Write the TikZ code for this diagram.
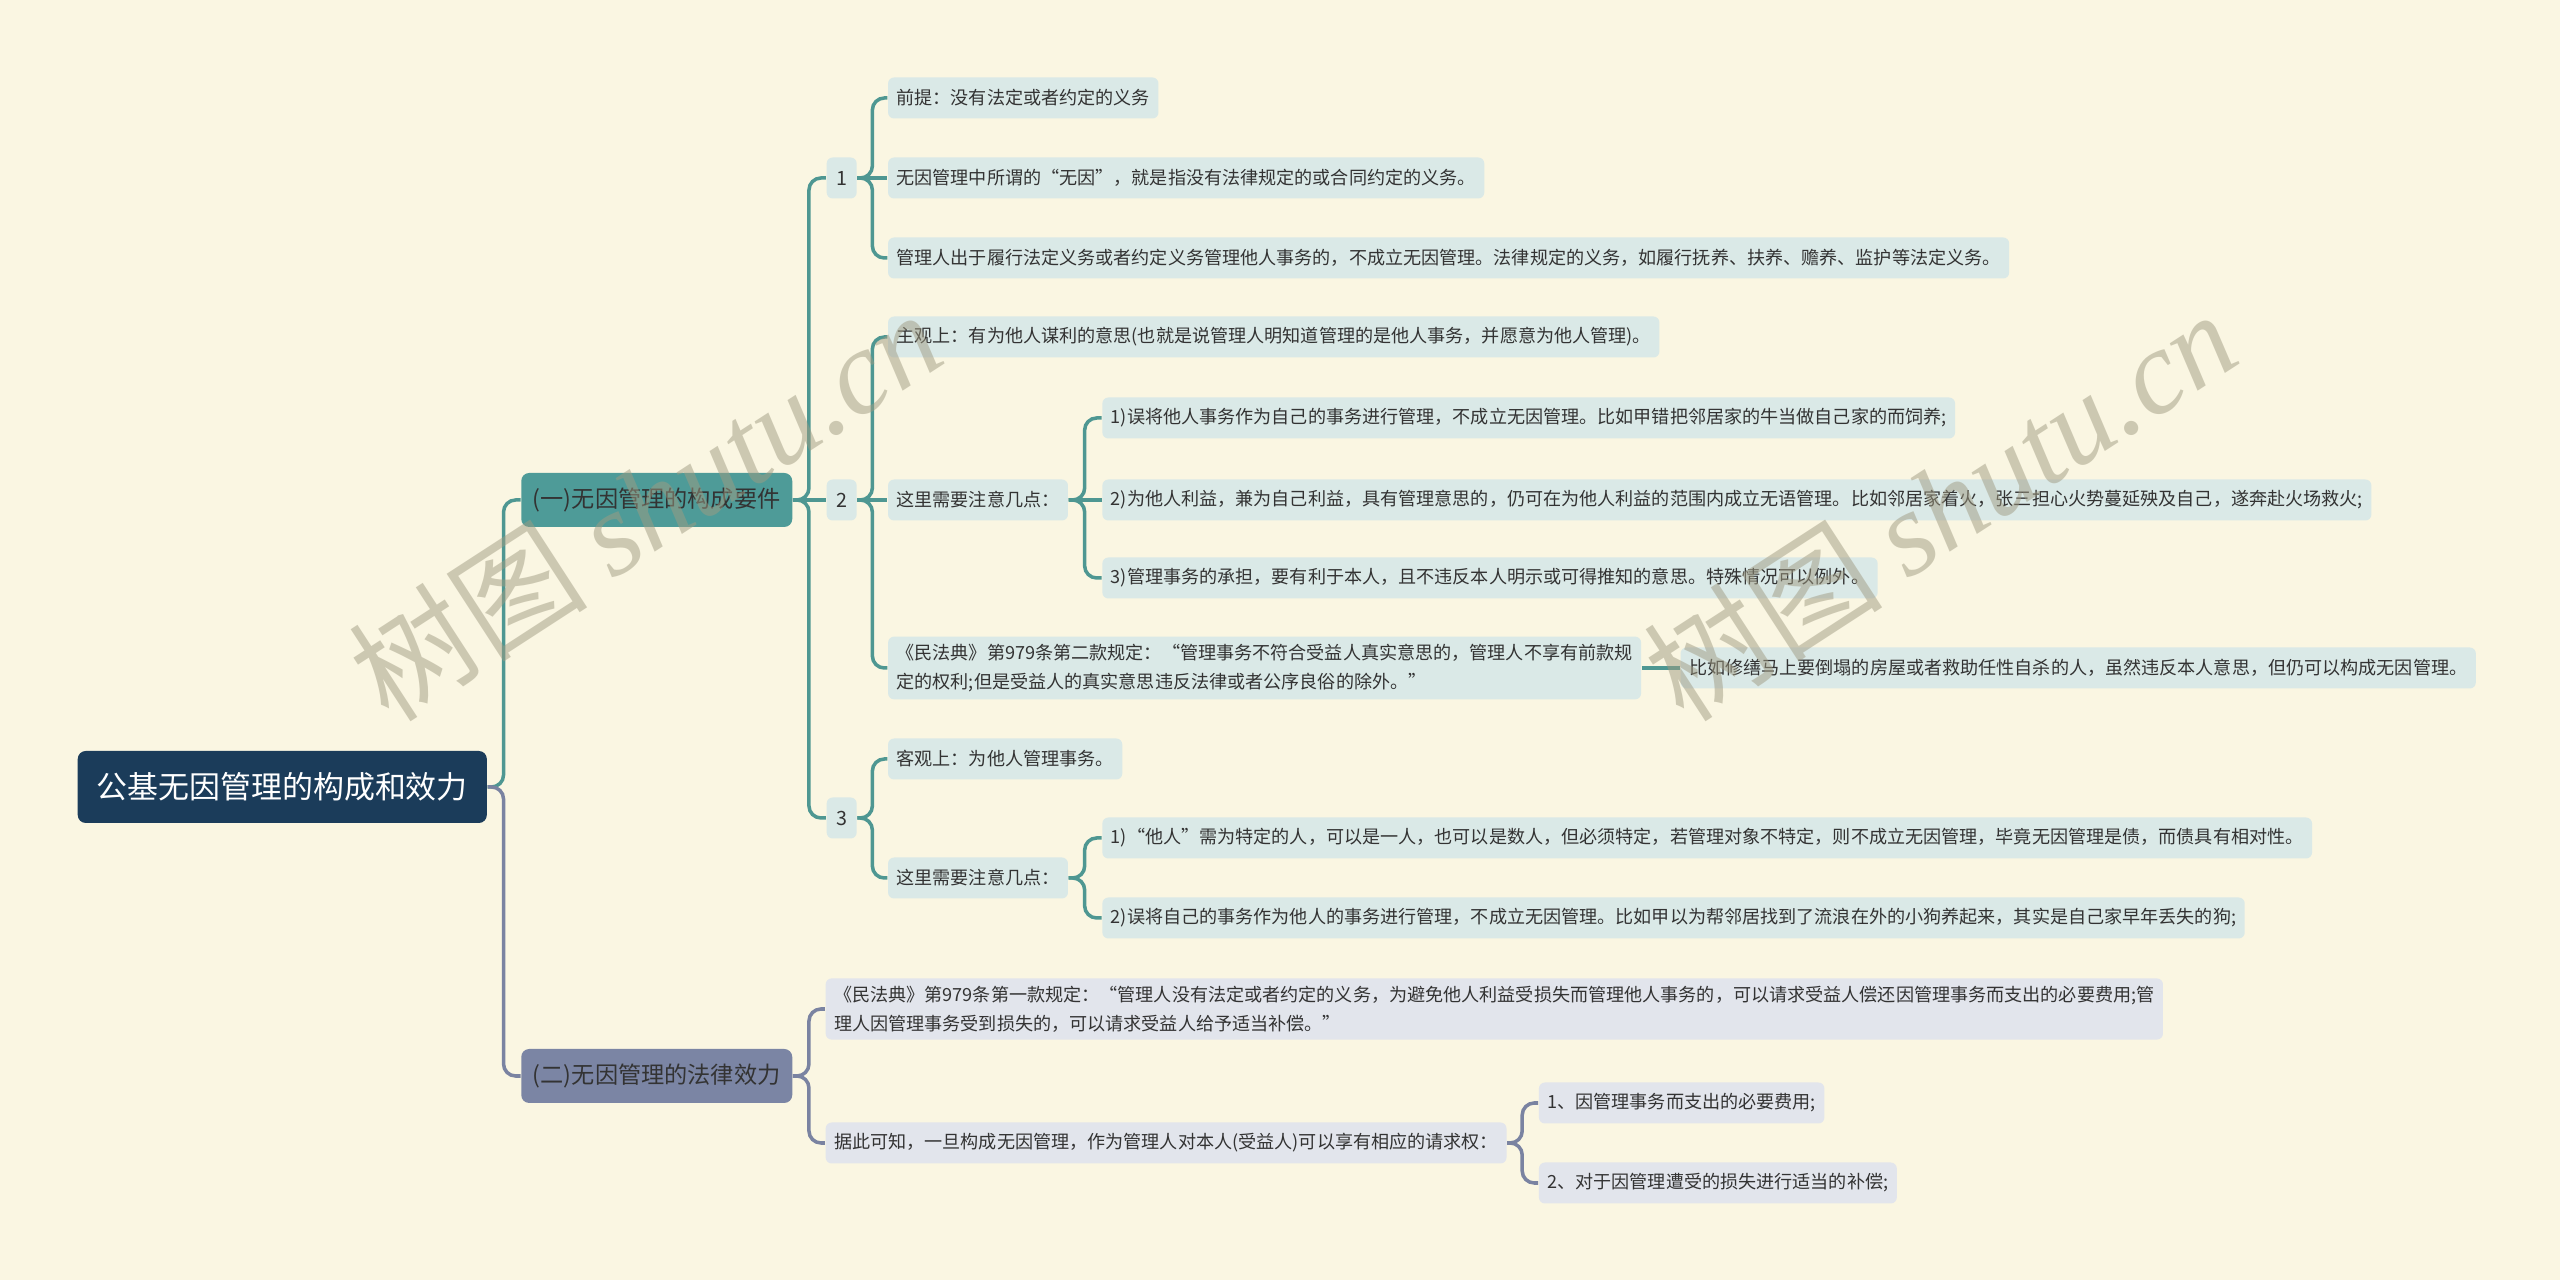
\documentclass[tikz,border=0pt]{standalone}
\usepackage{fontspec}
\setmainfont{Noto Sans CJK SC}
\newfontfamily\wmfont{Liberation Serif}
\usetikzlibrary{positioning}

\definecolor{bgcream}{HTML}{FAF6E2}
\definecolor{rootblue}{HTML}{1B3C5A}
\definecolor{tealmain}{HTML}{4E9B98}
\definecolor{slatemain}{HTML}{7B85A4}
\definecolor{tealleaf}{HTML}{DAE9E7}
\definecolor{slateleaf}{HTML}{E2E5EC}
\definecolor{tealline}{HTML}{4E9792}
\definecolor{slateline}{HTML}{7A83A1}
\definecolor{leaftext}{HTML}{333333}
\definecolor{wmgray}{HTML}{A09B82}

\begin{document}
\begin{tikzpicture}[
    node distance=0.32cm,
    rootbox/.style={rectangle, rounded corners=0.08cm, fill=rootblue, text=white, font=\fontsize{8.8}{10}\selectfont, inner xsep=0.19cm, minimum height=0.72cm},
    topic/.style={rectangle, rounded corners=0.08cm, text=black!80, font=\fontsize{6.6}{8}\selectfont, inner xsep=0.05cm, minimum width=2.71cm, minimum height=0.54cm},
    leaf/.style={rectangle, rounded corners=0.06cm, text=leaftext, font=\fontsize{5.15}{8.3}\selectfont, inner xsep=0.085cm, inner ysep=2.1pt, minimum height=0.41cm, align=left},
    tleaf/.style={leaf, fill=tealleaf},
    sleaf/.style={leaf, fill=slateleaf},
    numbox/.style={tleaf, minimum width=0.30cm, inner xsep=0pt, font=\fontsize{5.6}{7}\selectfont},
    tlink/.style={draw=tealline, line width=1pt, rounded corners=0.12cm},
    slink/.style={draw=slateline, line width=1pt, rounded corners=0.12cm},
    wmark/.style={text=wmgray, text opacity=0.5, font=\fontsize{34}{38}\selectfont, rotate=33}
]
% Background
\fill[bgcream] (0,0) rectangle (25.6,-12.8);
\useasboundingbox (0,0) rectangle (25.6,-12.8);

% Main topics
\node[rootbox, anchor=west] (root) at (0.77,-7.87) {公基无因管理的构成和效力};
\node[topic, fill=tealmain, right=0.33cm of root, yshift=2.87cm] (part1) {(一)无因管理的构成要件};
\node[topic, fill=slatemain, right=0.33cm of root, yshift=-2.89cm] (part2) {(二)无因管理的法律效力};

% Part one
\node[numbox, right=0.33cm of part1, yshift=3.22cm] (num1) {1};
\node[numbox, right=0.33cm of part1] (num2) {2};
\node[numbox, right=0.33cm of part1, yshift=-3.18cm] (num3) {3};

\node[tleaf, right=0.30cm of num1, yshift=0.80cm] (pre) {前提：没有法定或者约定的义务};
\node[tleaf, right=0.30cm of num1] (wuyin) {无因管理中所谓的“无因”，就是指没有法律规定的或合同约定的义务。};
\node[tleaf, right=0.30cm of num1, yshift=-0.80cm] (duty) {管理人出于履行法定义务或者约定义务管理他人事务的，不成立无因管理。法律规定的义务，如履行抚养、扶养、赡养、监护等法定义务。};

\node[tleaf, right=0.30cm of num2, yshift=1.63cm] (subj) {主观上：有为他人谋利的意思(也就是说管理人明知道管理的是他人事务，并愿意为他人管理)。};
\node[tleaf, right=0.30cm of num2] (note2) {这里需要注意几点：};
\node[tleaf, right=0.30cm of num2, yshift=-1.68cm] (law2) {《民法典》第979条第二款规定：“管理事务不符合受益人真实意思的，管理人不享有前款规\\定的权利;但是受益人的真实意思违反法律或者公序良俗的除外。”};
\node[tleaf, right=0.33cm of note2, yshift=0.82cm] (note2a) {1)误将他人事务作为自己的事务进行管理，不成立无因管理。比如甲错把邻居家的牛当做自己家的而饲养;};
\node[tleaf, right=0.33cm of note2] (note2b) {2)为他人利益，兼为自己利益，具有管理意思的，仍可在为他人利益的范围内成立无语管理。比如邻居家着火，张三担心火势蔓延殃及自己，遂奔赴火场救火;};
\node[tleaf, right=0.33cm of note2, yshift=-0.78cm] (note2c) {3)管理事务的承担，要有利于本人，且不违反本人明示或可得推知的意思。特殊情况可以例外。};
\node[tleaf, right=0.38cm of law2] (repair) {比如修缮马上要倒塌的房屋或者救助任性自杀的人，虽然违反本人意思，但仍可以构成无因管理。};

\node[tleaf, right=0.30cm of num3, yshift=0.59cm] (obj) {客观上：为他人管理事务。};
\node[tleaf, right=0.30cm of num3, yshift=-0.60cm] (note3) {这里需要注意几点：};
\node[tleaf, right=0.33cm of note3, yshift=0.40cm] (note3a) {1)“他人”需为特定的人，可以是一人，也可以是数人，但必须特定，若管理对象不特定，则不成立无因管理，毕竟无因管理是债，而债具有相对性。};
\node[tleaf, right=0.33cm of note3, yshift=-0.40cm] (note3b) {2)误将自己的事务作为他人的事务进行管理，不成立无因管理。比如甲以为帮邻居找到了流浪在外的小狗养起来，其实是自己家早年丢失的狗;};

% Part two
\node[sleaf, right=0.32cm of part2, yshift=0.67cm] (law1) {《民法典》第979条第一款规定：“管理人没有法定或者约定的义务，为避免他人利益受损失而管理他人事务的，可以请求受益人偿还因管理事务而支出的必要费用;管\\理人因管理事务受到损失的，可以请求受益人给予适当补偿。”};
\node[sleaf, right=0.32cm of part2, yshift=-0.67cm] (claim) {据此可知，一旦构成无因管理，作为管理人对本人(受益人)可以享有相应的请求权：};
\node[sleaf, right=0.31cm of claim, yshift=0.40cm] (claima) {1、因管理事务而支出的必要费用;};
\node[sleaf, right=0.31cm of claim, yshift=-0.40cm] (claimb) {2、对于因管理遭受的损失进行适当的补偿;};

% Connectors
\draw[tlink] (root.east) -- ++(0.16,0) |- (part1.west);
\draw[slink] (root.east) -- ++(0.16,0) |- (part2.west);

\draw[tlink] (part1.east) -- ++(0.16,0) |- (num1.west);
\draw[tlink] (part1.east) -- (num2.west);
\draw[tlink] (part1.east) -- ++(0.16,0) |- (num3.west);

\draw[tlink] (num1.east) -- ++(0.15,0) |- (pre.west);
\draw[tlink] (num1.east) -- (wuyin.west);
\draw[tlink] (num1.east) -- ++(0.15,0) |- (duty.west);

\draw[tlink] (num2.east) -- ++(0.15,0) |- (subj.west);
\draw[tlink] (num2.east) -- (note2.west);
\draw[tlink] (num2.east) -- ++(0.15,0) |- (law2.west);

\draw[tlink] (note2.east) -- ++(0.16,0) |- (note2a.west);
\draw[tlink] (note2.east) -- (note2b.west);
\draw[tlink] (note2.east) -- ++(0.16,0) |- (note2c.west);
\draw[tlink] (law2.east) -- (repair.west);

\draw[tlink] (num3.east) -- ++(0.15,0) |- (obj.west);
\draw[tlink] (num3.east) -- ++(0.15,0) |- (note3.west);
\draw[tlink] (note3.east) -- ++(0.16,0) |- (note3a.west);
\draw[tlink] (note3.east) -- ++(0.16,0) |- (note3b.west);

\draw[slink] (part2.east) -- ++(0.16,0) |- (law1.west);
\draw[slink] (part2.east) -- ++(0.16,0) |- (claim.west);
\draw[slink] (claim.east) -- ++(0.15,0) |- (claima.west);
\draw[slink] (claim.east) -- ++(0.15,0) |- (claimb.west);

% Watermarks
\node[wmark] (wm1) at (6.45,-5.05) {树图 {\wmfont\itshape shutu.cn}};
\node[wmark] (wm2) at (19.4,-5.05) {树图 {\wmfont\itshape shutu.cn}};

\end{tikzpicture}
\end{document}
